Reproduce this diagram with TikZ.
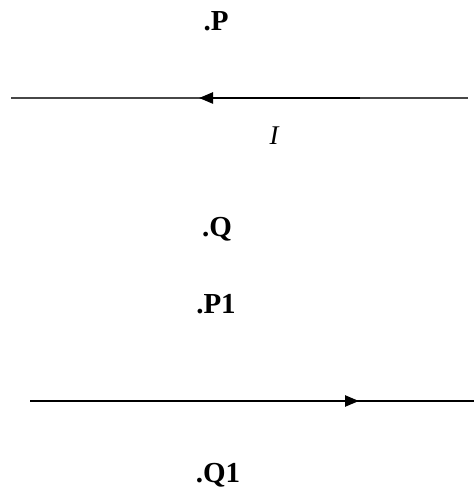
\documentclass[tikz,border=0pt]{standalone}
\usepackage{fontspec}
\setmainfont{Liberation Serif}
\usetikzlibrary{arrows.meta}
\begin{document}
\begin{tikzpicture}[x=1pt,y=-1pt,
  lbl/.style={font=\fontsize{29}{34}\selectfont\bfseries, inner sep=0pt},
  ilbl/.style={font=\fontsize{27}{32}\selectfont\itshape, inner sep=0pt},
  wire/.style={line width=1.3pt, draw=black!72},
  current/.style={line width=2.4pt, -{Triangle[length=14pt,width=11pt]}}]
\useasboundingbox (0,0) rectangle (474,489);
% top wire
\coordinate (tL) at (11,98);
\coordinate (tR) at (468,98);
\coordinate (tS) at (360,98);
\coordinate (tE) at (199,98);
\draw[wire] (tL) -- (tR);
\draw[current] (tS) -- (tE);
% bottom wire
\coordinate (bL) at (30,401);
\coordinate (bR) at (474,401);
\coordinate (bS) at (135,401);
\coordinate (bE) at (359,401);
\draw[wire, draw=black] (bL) -- (bR);
\draw[current] (bS) -- (bE);
% labels
\node[lbl] (P) at (216,21) {.P};
\node[ilbl] (I) at (274,136) {I};
\node[lbl] (Q) at (217,229) {.Q};
\node[lbl] (P1) at (216,304) {.P1};
\node[lbl] (Q1) at (218,475) {.Q1};
\end{tikzpicture}
\end{document}
